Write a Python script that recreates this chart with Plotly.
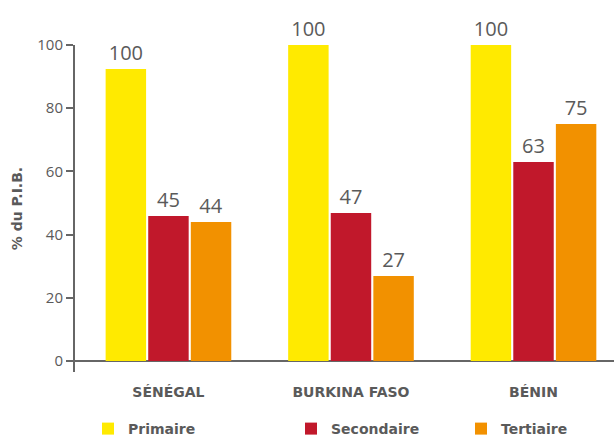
import plotly.graph_objects as go

pays = ["SÉNÉGAL", "BURKINA FASO", "BÉNIN"]
primaire = [92.4, 100, 100]
secondaire = [45.9, 46.8, 63]
tertiaire = [44.0, 26.9, 75]
lbl_primaire = ["100", "100", "100"]
lbl_secondaire = ["45", "47", "63"]
lbl_tertiaire = ["44", "27", "75"]
y_ticks = [0, 20, 40, 60, 80, 100]

grey = "#5a5a5a"
font_fam = "Open Sans, Lato, sans-serif"
bold_fam = "DejaVu Sans, Open Sans, sans-serif"

series = [
    ("Primaire", primaire, lbl_primaire, "#FFEA00", "legend"),
    ("Secondaire", secondaire, lbl_secondaire, "#C1182B", "legend2"),
    ("Tertiaire", tertiaire, lbl_tertiaire, "#F29100", "legend3"),
]

fig = go.Figure()
for name, vals, lbls, col, lg in series:
    fig.add_trace(go.Bar(
        x=pays, y=vals, name=name, marker_color=col, marker_line_width=0,
        text=lbls, textposition="outside", cliponaxis=False,
        textfont=dict(size=20, color=grey, family=font_fam),
        legend=lg,
    ))

W0, W = 75, 539
H = 438 - 45 - 66

def lx(px):
    return (px - W0) / W

leg_common = dict(orientation="h", yanchor="top", xanchor="left",
                  font=dict(size=14, color=grey, family=bold_fam, weight="bold"),
                  bgcolor="rgba(0,0,0,0)", borderwidth=0, itemwidth=30)
ly = -(413 - 372) / H

fig.update_layout(
    width=614, height=438,
    margin=dict(l=75, r=0, t=45, b=66, autoexpand=False),
    plot_bgcolor="white", paper_bgcolor="white",
    barmode="group", bargap=0.30, bargroupgap=0.05,
    showlegend=True,
    legend=dict(x=lx(88), y=ly, **leg_common),
    legend2=dict(x=lx(291), y=ly, **leg_common),
    legend3=dict(x=lx(461), y=ly, **leg_common),
)
fig.update_xaxes(
    range=[-0.512, 2.441], showline=False, showgrid=False, zeroline=False,
    ticks="outside", ticklen=7, tickcolor="rgba(0,0,0,0)",
    tickfont=dict(size=14, color=grey, family=bold_fam, weight="bold"),
)
fig.update_yaxes(
    range=[-3.5, 100], tickvals=y_ticks, showgrid=False,
    showline=True, linecolor="#666666", linewidth=2,
    ticks="outside", ticklen=7, tickwidth=1.5, tickcolor="#666666",
    zeroline=True, zerolinecolor="#666666", zerolinewidth=2,
    tickfont=dict(size=15, color=grey, family=font_fam),
    title=dict(text="% du P.I.B.", font=dict(size=14, color=grey, family=bold_fam, weight="bold"), standoff=11),
)
fig.write_html("out.html")
